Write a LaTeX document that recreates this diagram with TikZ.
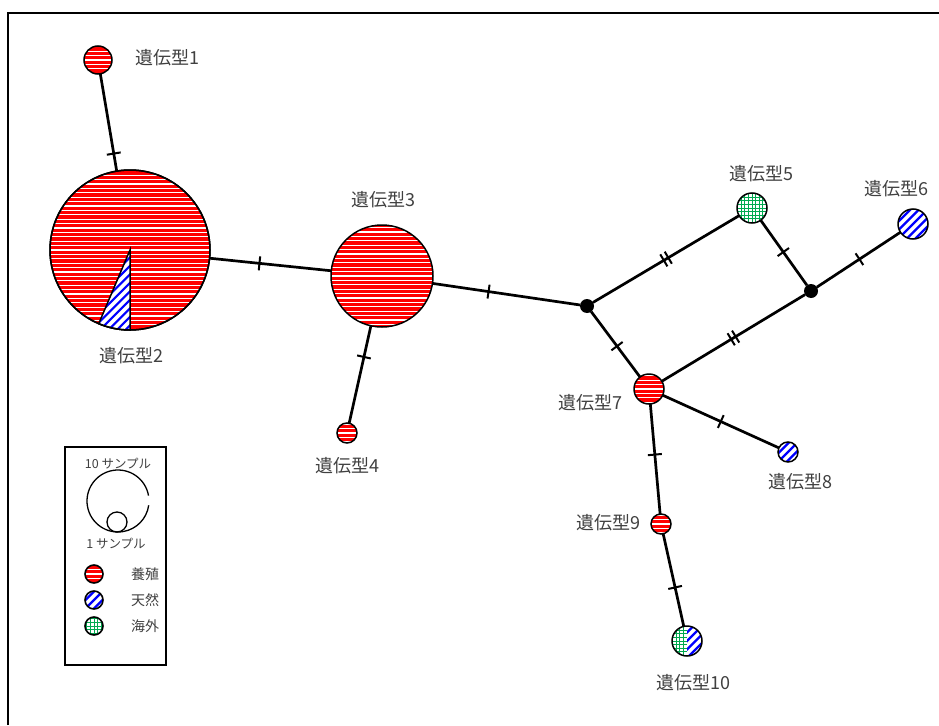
\documentclass[tikz,border=0pt]{standalone}
\usepackage{fontspec}
\newfontfamily\jp{Noto Sans CJK JP}
\usetikzlibrary{decorations.markings}
\definecolor{txtgray}{RGB}{64,64,64}
\definecolor{grgreen}{RGB}{0,170,80}
\newcommand\patRed{%
  \fill[red] ([shift={(-200pt,-200pt)}]path picture bounding box.center) rectangle ++(400pt,400pt);
  \foreach \i in {-22,...,22}
    \draw[white,line width=1.2pt] ([yshift=\i*4.4pt]path picture bounding box.center) ++(-120pt,0pt) -- ++(240pt,0pt);}
\newcommand\patBlue{%
  \fill[white] ([shift={(-200pt,-200pt)}]path picture bounding box.center) rectangle ++(400pt,400pt);
  \foreach \i in {-22,...,22}
    \draw[blue,line width=2.2pt] ([xshift=\i*8.5pt]path picture bounding box.center) ++(-120pt,-120pt) -- ++(240pt,240pt);}
\newcommand\patGreen{%
  \fill[white] ([shift={(-200pt,-200pt)}]path picture bounding box.center) rectangle ++(400pt,400pt);
  \foreach \i in {-12,...,12}{
    \draw[grgreen,line width=0.8pt] ([xshift=\i*3.6pt]path picture bounding box.center) ++(0pt,-60pt) -- ++(0pt,120pt);
    \draw[grgreen,line width=0.8pt] ([yshift=\i*3.6pt]path picture bounding box.center) ++(-60pt,0pt) -- ++(120pt,0pt);}}
\tikzset{
  gen/.style={circle,draw,line width=1.5pt,inner sep=0pt,outer sep=0pt,minimum size=#1},
  redc/.style={gen=#1,path picture={\patRed}},
  bluec/.style={gen=#1,path picture={\patBlue}},
  greenc/.style={gen=#1,path picture={\patGreen}},
  junc/.style={circle,fill=black,inner sep=0pt,outer sep=0pt,minimum size=14pt},
  edge/.style={line width=2.7pt},
  tk/.style={postaction={decorate,decoration={markings,mark=at position #1 with {\draw[line width=2pt] (0pt,-7pt) -- (0pt,7pt);}}}},
  dtk/.style={postaction={decorate,decoration={markings,mark=at position #1 with {\draw[line width=2pt] (-2.6pt,-7pt) -- (-2.6pt,7pt) (2.6pt,-7pt) -- (2.6pt,7pt);}}}},
  lbl/.style={text=txtgray,font=\jp\fontsize{18}{21}\selectfont,inner sep=0pt},
  slbl/.style={text=txtgray,font=\jp\fontsize{12.5}{14}\selectfont,inner sep=0pt},
  klbl/.style={text=txtgray,font=\jp\fontsize{14}{16}\selectfont,inner sep=0pt},
}
\begin{document}
\begin{tikzpicture}[x=1pt,y=-1pt]
\useasboundingbox (0,0) rectangle (939,725);
% frame
\draw[line width=2pt] (7.5,725) -- (7.5,13.5) -- (939,13.5);
% nodes
\node[redc=28pt] (g1) at (98,60) {};
\node[redc=160pt] (g2) at (130,250) {};
\draw[line width=1.5pt,path picture={\patBlue}] (g2.center) -- (g2.247) arc[start angle=247,end angle=270,radius=80pt] -- cycle;
\draw[line width=1.5pt] (g2) circle[radius=80pt];
\node[redc=102pt] (g3) at (382,276) {};
\node[redc=20pt] (g4) at (347,433) {};
\node[greenc=30pt] (g5) at (752,208) {};
\node[bluec=30pt] (g6) at (913,224) {};
\node[redc=30pt] (g7) at (649,389) {};
\node[bluec=20pt] (g8) at (788,452) {};
\node[redc=20pt] (g9) at (661,524) {};
\node[gen=30pt,path picture={
  \begin{scope}\clip ([shift={(-20pt,-20pt)}]path picture bounding box.center) rectangle ++(20pt,40pt); \patGreen\end{scope}
  \begin{scope}\clip ([shift={(0pt,-20pt)}]path picture bounding box.center) rectangle ++(20pt,40pt); \patBlue\end{scope}
  }] (g10) at (687,641) {};
\node[junc] (j1) at (587,306) {};
\node[junc] (j2) at (811,291) {};
% edges
\draw[edge,tk=0.82] (g1) -- (g2);
\draw[edge,tk=0.41] (g2) -- (g3);
\draw[edge,tk=0.32] (g3) -- (g4);
\draw[edge,tk=0.38] (g3) -- (j1);
\draw[edge,dtk=0.5] (j1) -- (g5);
\draw[edge,tk=0.49] (g5) -- (j2);
\draw[edge,tk=0.51] (j2) -- (g6);
\draw[edge,dtk=0.5] (j2) -- (g7);
\draw[edge,tk=0.53] (j1) -- (g7);
\draw[edge,tk=0.5] (g7) -- (g8);
\draw[edge,tk=0.46] (g7) -- (g9);
\draw[edge,tk=0.58] (g9) -- (g10);
% labels
\node[lbl] (l1) at (167,58) {遺伝型1};
\node[lbl] (l2) at (131,356) {遺伝型2};
\node[lbl] (l3) at (383,200) {遺伝型3};
\node[lbl] (l4) at (347,466) {遺伝型4};
\node[lbl] (l5) at (761,174) {遺伝型5};
\node[lbl] (l6) at (896,189) {遺伝型6};
\node[lbl] (l7) at (590,403) {遺伝型7};
\node[lbl] (l8) at (800,482) {遺伝型8};
\node[lbl] (l9) at (608,523) {遺伝型9};
\node[lbl] (l10) at (693,683) {遺伝型10};
% legend
\draw[line width=1.3pt] (65,447) rectangle (166,665);
\node[slbl] (t10) at (118,464) {10 サンプル};
\node[circle,inner sep=0pt,outer sep=0pt,minimum size=62pt] (big) at (118,501) {};
\draw[line width=1.3pt] (big.10) arc[start angle=10,end angle=352,radius=31pt];
\node[gen=20pt,line width=1.3pt] (small) at (117,522) {};
\node[slbl] (t1) at (116,544) {1 サンプル};
\node[redc=18pt,line width=1.6pt] (k1) at (94,574) {};
\node[bluec=18pt,line width=1.6pt] (k2) at (94,600) {};
\node[greenc=18pt,line width=1.6pt] (k3) at (94,626) {};
\node[klbl] (kt1) at (145,574) {養殖};
\node[klbl] (kt2) at (145,600) {天然};
\node[klbl] (kt3) at (145,626) {海外};
\end{tikzpicture}
\end{document}
